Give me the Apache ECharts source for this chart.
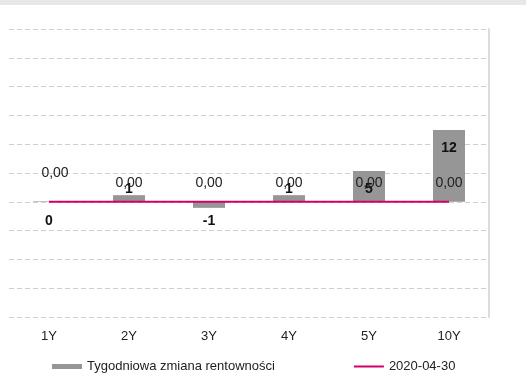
<!DOCTYPE html>
<html>
<head>
<meta charset="utf-8">
<script src="https://cdn.jsdelivr.net/npm/echarts@6/dist/echarts.min.js"></script>
<style>html,body{margin:0;padding:0;background:#fff}#c{width:526px;height:378px}</style>
</head>
<body>
<div id="c"></div>
<script>
var categories = ['1Y', '2Y', '3Y', '4Y', '5Y', '10Y'];
var weeklyChange = [0.1, 1.15, -1.05, 1.15, 5.35, 12.45];
var weeklyLabels = ['0', '1', '-1', '1', '5', '12'];
var yieldLevel = [0, 0, 0, 0, 0, 0];
var yieldLabels = ['0,00', '0,00', '0,00', '0,00', '0,00', '0,00'];
var barName = 'Tygodniowa zmiana rentowności';
var lineName = '2020-04-30';

var barPos = ['bottom', 'top', 'bottom', 'top', 'insideTop', 'insideTop'];
var barDist = [12, -1, 6, -1, 11, 11];

var chart = echarts.init(document.getElementById('c'), null, {renderer: 'canvas'});
chart.setOption({
  animation: false,
  textStyle: {fontFamily: 'Liberation Sans, Arial, sans-serif'},
  graphic: [{type: 'rect', left: 0, top: 0, shape: {width: 526, height: 5}, style: {fill: '#e6e7e8'}, silent: true}],
  grid: {left: 9, right: 37, top: 29, bottom: 61, containLabel: false},
  xAxis: {
    type: 'category', data: categories,
    axisLine: {show: false}, axisTick: {show: false},
    axisLabel: {color: '#222', fontSize: 13, margin: 13}
  },
  yAxis: {
    type: 'value', min: -20, max: 30, interval: 5, position: 'right',
    axisLabel: {show: false}, axisTick: {show: false},
    axisLine: {show: true, lineStyle: {color: '#dcdcdc', width: 2}},
    splitLine: {lineStyle: {color: '#cfcfcf', type: [5, 3], width: 1}}
  },
  legend: {
    bottom: 0, left: 47, itemGap: 79, itemWidth: 30, itemHeight: 5,
    textStyle: {color: '#222', fontSize: 13},
    data: [{name: barName, icon: 'rect'}, {name: lineName, icon: 'path://M0,0 L30,0 L30,2 L0,2 Z', itemStyle: {color: '#d10069'}}]
  },
  series: [
    {
      name: barName, type: 'bar', barWidth: '40%',
      itemStyle: {color: '#969696'},
      data: weeklyChange.map(function (v, i) {
        return {value: v, label: {show: true, position: barPos[i], distance: barDist[i],
          formatter: weeklyLabels[i], fontWeight: 'bold', fontSize: 14, color: '#111'}};
      }),
      z: 2
    },
    {
      name: lineName, type: 'line', symbol: 'circle', symbolSize: 0, showSymbol: true,
      lineStyle: {color: '#d10069', width: 2}, itemStyle: {color: '#d10069'},
      data: yieldLevel.map(function (v, i) {
        return {value: v, label: {show: true, position: 'top', distance: 12,
          offset: i === 0 ? [6, -10] : [0, 0],
          formatter: yieldLabels[i], fontSize: 14, color: '#222'}};
      }),
      z: 3
    }
  ]
});
</script>
</body>
</html>
